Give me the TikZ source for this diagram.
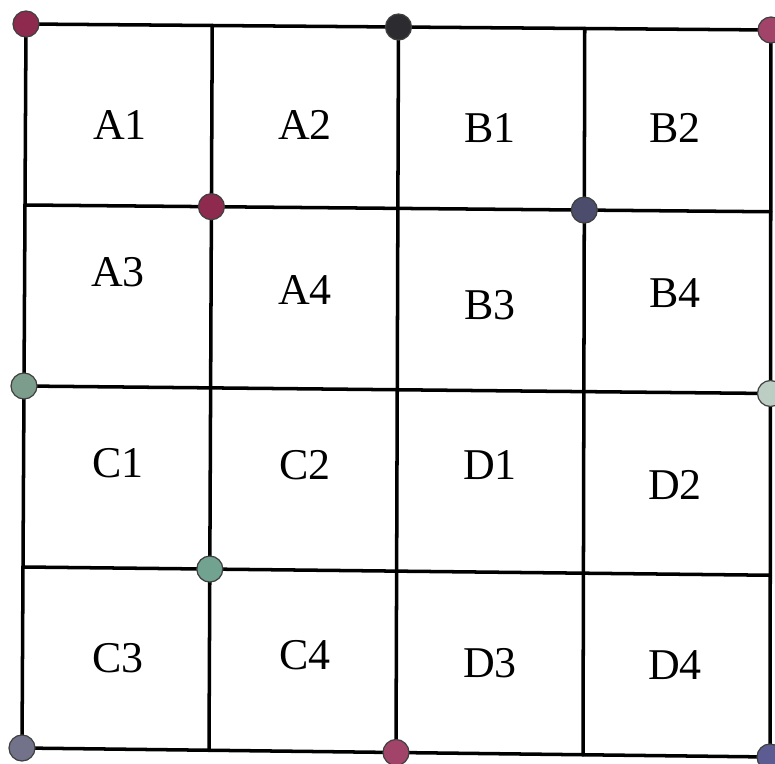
\documentclass[tikz,border=0pt]{standalone}
\usepackage{fontspec}
\setmainfont{Liberation Serif}
\usetikzlibrary{calc}

\definecolor{dotmaroon}{HTML}{8E2A4E}
\definecolor{dotrose}{HTML}{A2446A}
\definecolor{dotdark}{HTML}{2C2C30}
\definecolor{dotslate}{HTML}{4C4C6C}
\definecolor{dotgreen}{HTML}{7C9C8C}
\definecolor{dotmint}{HTML}{72A290}
\definecolor{dotpale}{HTML}{BCCEC4}
\definecolor{dotgrey}{HTML}{72728A}
\definecolor{dotblue}{HTML}{5C5C92}

\begin{document}
\begin{tikzpicture}[
    x=0.02cm, y=-0.02cm,
    gridline/.style={line width=2pt, line cap=round},
    cell/.style={font=\fontsize{25}{30}\selectfont, inner sep=0pt},
    dot/.style={circle, draw=black!75, line width=0.7pt, minimum size=0.52cm, inner sep=0pt}
]
\useasboundingbox (0,0) rectangle (775,764);

% corners of the sheet
\coordinate (TL) at (26,24);
\coordinate (TR) at (771,30);
\coordinate (BL) at (22,748);
\coordinate (BR) at (770,757);

% grid points
\foreach \i in {0,...,4}{
  \foreach \j in {0,...,4}{
    \coordinate (g-\i-\j) at ($($(TL)!\i/4!(TR)$)!\j/4!($(BL)!\i/4!(BR)$)$);
  }
}

% grid lines
\foreach \k in {0,...,4}{
  \draw[gridline] (g-\k-0) -- (g-\k-4);
  \draw[gridline] (g-0-\k) -- (g-4-\k);
}

% cell labels
\foreach \name/\x/\y in {A1/120/125, A2/305/125, B1/490/128, B2/675/128,
                         A3/118/272, A4/305/290, B3/490/305, B4/675/293,
                         C1/118/463, C2/305/465, D1/490/465, D2/675/485,
                         C3/118/658, C4/305/655, D3/490/663, D4/675/665}
  \node[cell] (\name) at (\x,\y) {\name};

% marked points
\node[dot, fill=dotmaroon] (p-tl) at (g-0-0) {};
\node[dot, fill=dotdark] (p-tm) at (g-2-0) {};
\node[dot, fill=dotrose] (p-tr) at (g-4-0) {};
\node[dot, fill=dotmaroon] (p-a) at (g-1-1) {};
\node[dot, fill=dotslate] (p-b) at (g-3-1) {};
\node[dot, fill=dotgreen] (p-ml) at (g-0-2) {};
\node[dot, fill=dotpale] (p-mr) at (g-4-2) {};
\node[dot, fill=dotmint] (p-c) at (g-1-3) {};
\node[dot, fill=dotgrey] (p-bl) at (g-0-4) {};
\node[dot, fill=dotrose] (p-bm) at (g-2-4) {};
\node[dot, fill=dotblue] (p-br) at (g-4-4) {};

\end{tikzpicture}
\end{document}
